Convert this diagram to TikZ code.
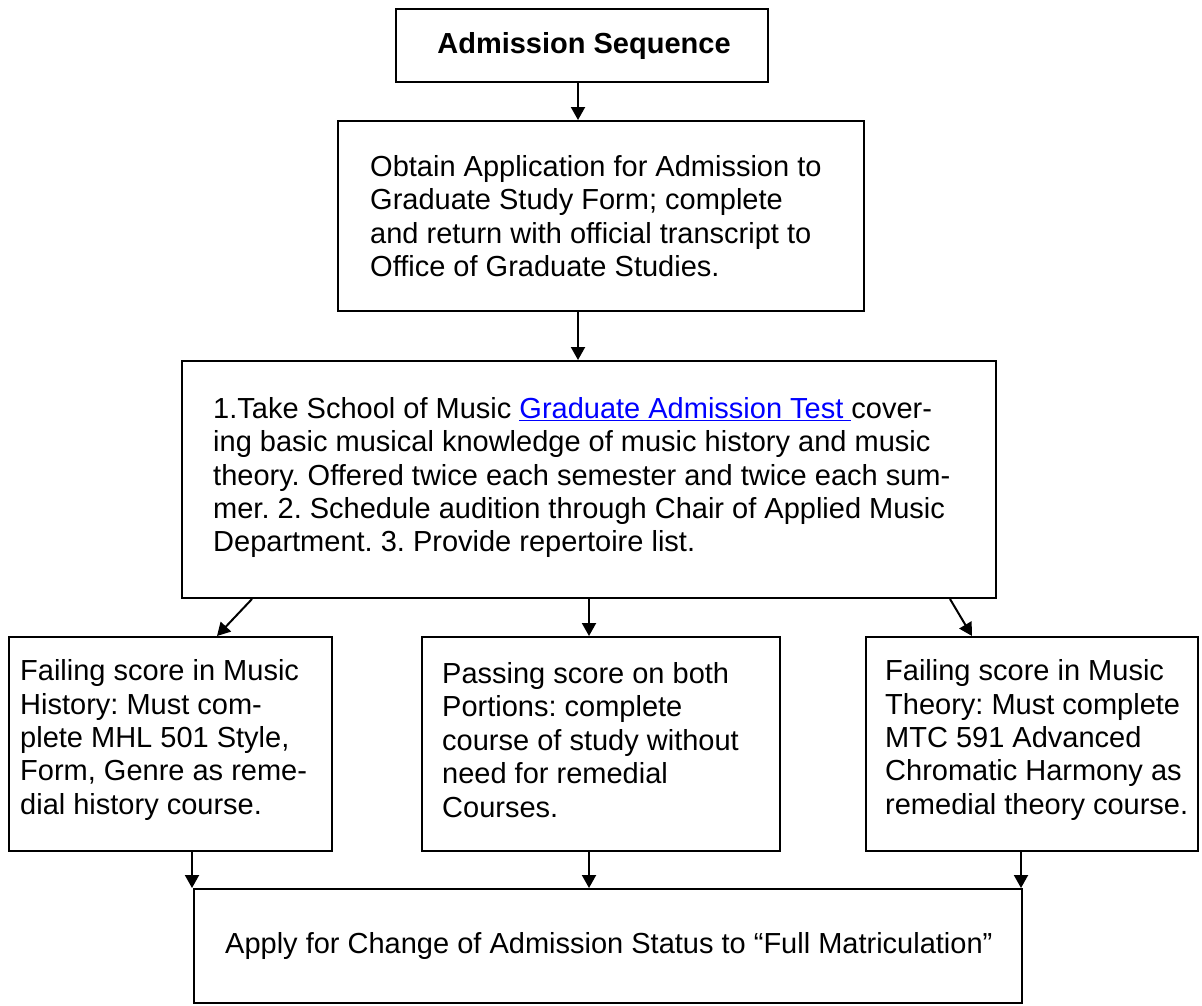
\documentclass[tikz,border=0pt]{standalone}
\usepackage{fontspec}
\setmainfont{Liberation Sans}
\usetikzlibrary{arrows.meta}
\definecolor{linkblue}{RGB}{0,0,255}

\begin{document}
\frenchspacing
\begin{tikzpicture}[x=1pt, y=-1pt,
  every node/.style={font=\fontsize{29}{33.4}\selectfont, inner sep=0pt},
  box/.style={draw, line width=2pt, anchor=north west},
  txt/.style={anchor=west, align=left},
  flow/.style={-{Triangle[length=13pt, width=14pt]}, line width=2pt}]

\useasboundingbox (0, 0) rectangle (1202, 1005);

% Title box
\node[box, minimum width=372pt, minimum height=73pt] (sequence) at (395, 8) {};
\node[font=\fontsize{29}{33.4}\selectfont\bfseries] (sequencetext) at ([xshift=2pt]sequence.center) {Admission Sequence};

% Application box
\node[box, minimum width=526pt, minimum height=190pt] (application) at (337, 120) {};
\node[txt] (applicationtext) at ([xshift=33pt]application.west)
  {Obtain Application for Admission to\\ Graduate Study Form; complete\\ and return with official transcript to\\ Office of Graduate Studies.};

% Test and audition box
\node[box, minimum width=814pt, minimum height=237pt] (test) at (181, 360) {};
\node[txt] (testtext) at ([xshift=32pt, yshift=2pt]test.west)
  {1.Take School of Music \textcolor{linkblue}{\underline{Graduate Admission Test\ }}cover-\\
   ing basic musical knowledge of music history and music\\
   theory. Offered twice each semester and twice each sum-\\
   mer. 2. Schedule audition through Chair of Applied Music\\
   Department. 3. Provide repertoire list.};

% Three outcomes
\node[box, minimum width=323pt, minimum height=214pt] (historyfail) at (8, 636) {};
\node[txt] (historyfailtext) at ([xshift=12pt, yshift=4pt]historyfail.west)
  {Failing score in Music\\ History: Must com-\\ plete MHL 501 Style,\\ Form, Genre as reme-\\ dial history course.};

\node[box, minimum width=358pt, minimum height=214pt] (passing) at (421, 636) {};
\node[txt] (passingtext) at ([xshift=21pt, yshift=4pt]passing.west)
  {Passing score on both\\ Portions: complete\\ course of study without\\ need for remedial\\ Courses.};

\node[box, minimum width=332pt, minimum height=214pt] (theoryfail) at (865, 636) {};
\node[txt] (theoryfailtext) at ([xshift=20pt, yshift=4pt]theoryfail.west)
  {Failing score in Music\\ Theory: Must complete\\ MTC 591 Advanced\\ Chromatic Harmony as\\ remedial theory course.};

% Final box
\node[box, minimum width=828pt, minimum height=114pt] (apply) at (193, 888) {};
\node[txt] (applytext) at ([xshift=32pt]apply.west)
  {Apply for Change of Admission Status to “Full Matriculation”};

% Arrows
\draw[flow] ([xshift=-4pt]sequence.south) -- ([xshift=-4pt]sequence.south |- application.north);
\draw[flow] ([xshift=-23pt]application.south) -- ([xshift=-23pt]application.south |- test.north);
\draw[flow] ([xshift=71pt]test.south west) -- ([xshift=209pt]historyfail.north west);
\draw[flow] (test.south) -- (test.south |- passing.north);
\draw[flow] ([xshift=-47pt]test.south east) -- ([xshift=107pt]theoryfail.north west);
\draw[flow] ([xshift=184pt]historyfail.south west) -- ([xshift=184pt]historyfail.south west |- apply.north);
\draw[flow] ([xshift=-12pt]passing.south) -- ([xshift=-12pt]passing.south |- apply.north);
\draw[flow] ([xshift=156pt]theoryfail.south west) -- ([xshift=156pt]theoryfail.south west |- apply.north);

\end{tikzpicture}
\end{document}
